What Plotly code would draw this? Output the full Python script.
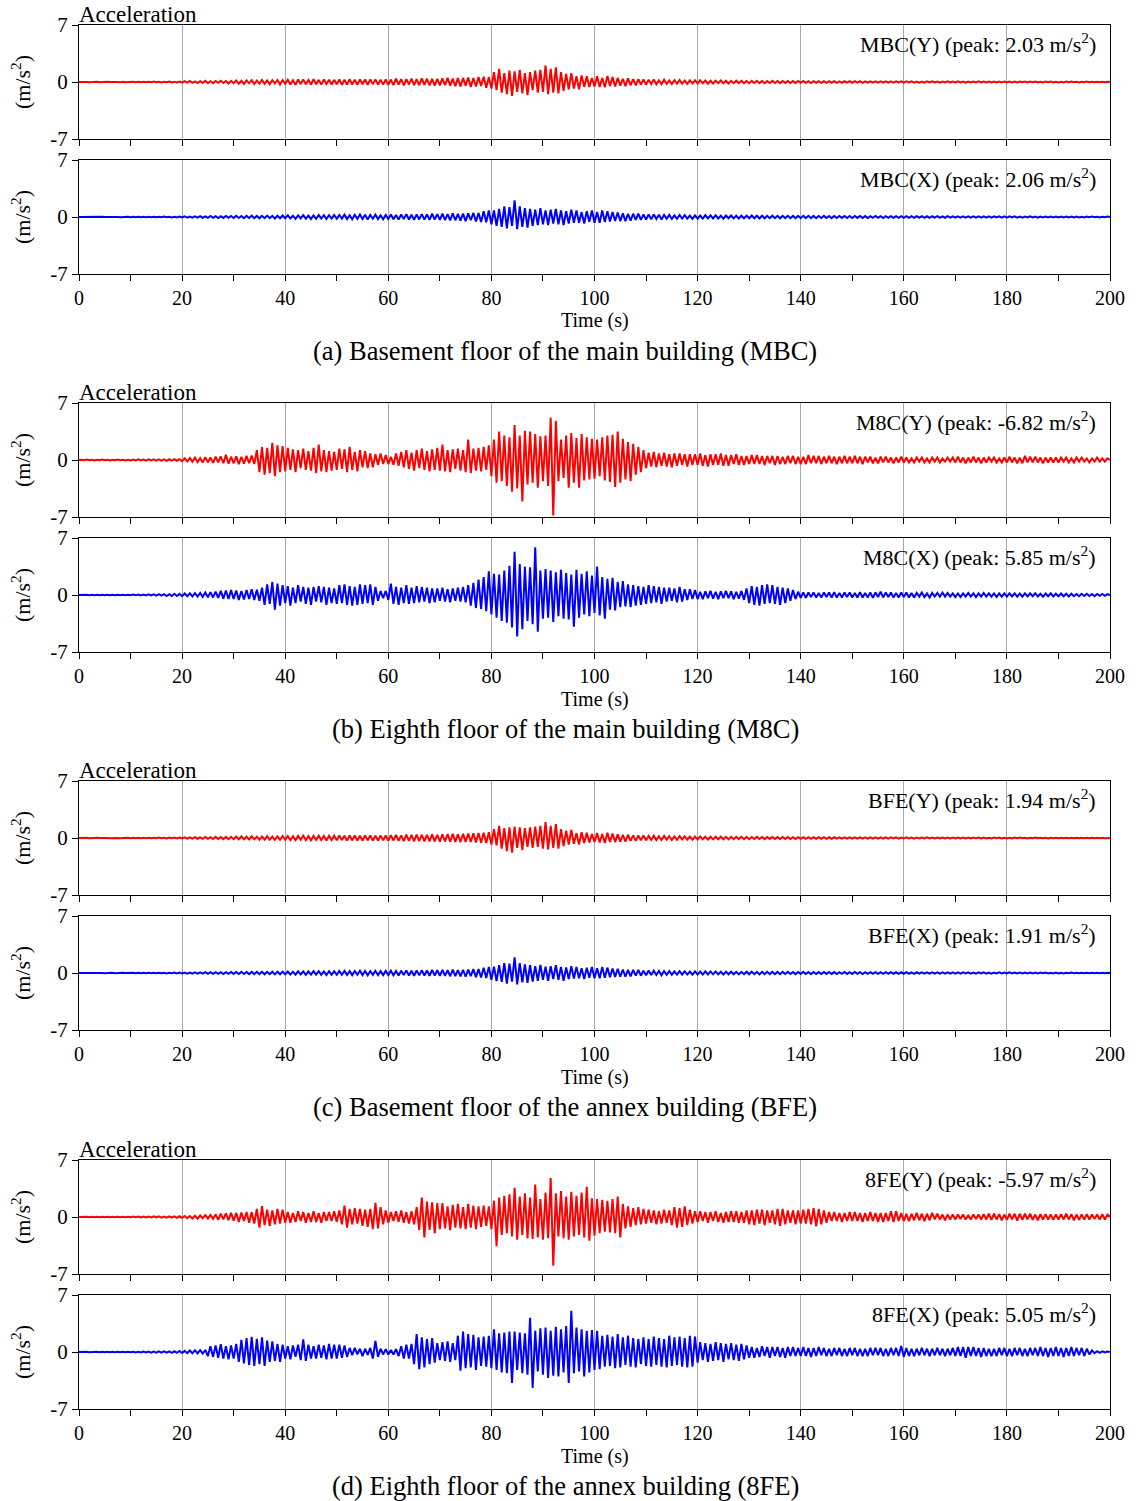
import numpy as np
import plotly.graph_objects as go

# ---------------- data (acceleration, m/s^2, sampled every 0.5 s from 0 to 200 s) ----------------
MBC_Y = [
    0,.02,-.02,.01,-.02,.02,-.01,.02,-.02,.01,-.02,.02,-.01,.02,-.02,.01,-.02,.03,-.02,.02,
    -.03,.03,-.02,.04,-.03,.03,-.04,.03,-.03,.05,-.04,.04,-.05,.04,-.03,.05,-.05,.04,-.06,.05,
    -.08,.1,-.07,.12,-.1,.08,-.12,.1,-.09,.14,-.12,.1,-.15,.12,-.1,.16,-.13,.12,-.18,.15,
    -.14,.18,-.2,.15,-.22,.2,-.16,.22,-.25,.18,-.2,.24,-.22,.2,-.26,.22,-.18,.25,-.3,.24,
    -.22,.28,-.3,.22,-.35,.3,-.25,.32,-.28,.25,-.3,.35,-.28,.26,-.32,.3,-.25,.28,-.3,.26,
    -.28,.3,-.35,.28,-.32,.35,-.3,.28,-.36,.32,-.28,.3,-.34,.3,-.26,.32,-.3,.28,-.32,.3,
    -.35,.3,-.38,.4,-.32,.36,-.4,.35,-.3,.42,-.38,.35,-.4,.45,-.36,.4,-.42,.38,-.45,.4,
    -.42,.45,-.4,.5,-.45,.42,-.5,.48,-.55,.5,-.45,.55,-.6,.5,-.55,.6,-.5,.65,-.7,.6,
    -.8,1.2,-1.0,1.6,-1.3,1.1,-1.5,1.4,-1.7,1.3,-1.2,1.5,-1.4,1.1,-1.6,1.2,-1.0,1.4,-1.3,1.5,
    -1.2,2.03,-1.5,1.6,-1.3,1.8,-1.4,1.2,-1.1,1.0,-.9,1.1,-.8,.7,-.9,.8,-.6,.7,-.6,.5,
    -.55,.7,-.6,.5,-.65,.75,-.5,.6,-.55,.5,-.45,.4,-.5,.45,-.4,.35,-.4,.35,-.3,.32,
    -.3,.28,-.25,.3,-.28,.22,-.25,.28,-.22,.2,-.25,.22,-.2,.24,-.2,.18,-.22,.2,-.18,.2,
    -.18,.2,-.16,.18,-.2,.15,-.18,.16,-.14,.18,-.16,.15,-.18,.14,-.15,.16,-.13,.15,-.14,.12,
    -.15,.14,-.12,.15,-.14,.12,-.15,.13,-.12,.14,-.13,.12,-.14,.12,-.11,.13,-.12,.11,-.13,.12,
    -.1,.12,-.11,.1,-.12,.1,-.09,.11,-.1,.09,-.11,.1,-.09,.1,-.1,.08,-.1,.09,-.08,.1,
    -.09,.1,-.08,.09,-.1,.08,-.09,.08,-.07,.09,-.08,.07,-.09,.08,-.07,.08,-.07,.08,-.06,.07,
    -.07,.08,-.06,.07,-.08,.06,-.07,.06,-.07,.08,-.06,.07,-.06,.05,-.07,.06,-.05,.07,-.06,.05,
    -.06,.07,-.05,.06,-.07,.05,-.06,.06,-.05,.07,-.06,.05,-.06,.05,-.05,.06,-.05,.05,-.06,.05,
    -.05,.06,-.05,.05,-.06,.05,-.04,.05,-.05,.06,-.04,.05,-.05,.04,-.05,.05,-.04,.05,-.05,.04,
    -.05,.04,-.05,.05,-.04,.05,-.04,.04,-.05,.04,-.04,.05,-.04,.04,-.04,.03,-.04,.04,-.03,.04,
    0,
]
MBC_X = [
    0,.01,-.01,.02,-.01,.01,-.02,.01,-.01,.02,-.01,.01,-.02,.02,-.01,.01,-.02,.02,-.01,.02,
    -.02,.03,-.02,.03,-.03,.02,-.03,.04,-.03,.03,-.04,.03,-.04,.05,-.04,.04,-.05,.04,-.05,.06,
    -.06,.07,-.08,.06,-.09,.08,-.07,.1,-.09,.08,-.1,.12,-.1,.09,-.12,.1,-.11,.13,-.1,.12,
    -.12,.14,-.13,.12,-.15,.14,-.12,.16,-.14,.13,-.16,.15,-.14,.17,-.15,.14,-.18,.16,-.15,.18,
    -.16,.2,-.18,.16,-.22,.2,-.18,.22,-.2,.18,-.24,.2,-.22,.25,-.2,.22,-.25,.22,-.2,.24,
    -.22,.25,-.2,.28,-.25,.22,-.28,.25,-.22,.3,-.25,.28,-.3,.25,-.22,.28,-.25,.22,-.28,.26,
    -.25,.3,-.28,.25,-.32,.3,-.26,.35,-.3,.28,-.35,.32,-.3,.36,-.32,.3,-.35,.4,-.32,.35,
    -.35,.4,-.38,.35,-.42,.45,-.4,.38,-.45,.42,-.5,.45,-.4,.5,-.55,.5,-.6,.7,-.65,.8,
    -.9,.8,-1.1,1.0,-1.2,1.3,-1.4,1.2,-1.1,2.06,-1.5,1.3,-1.2,1.1,-1.3,1.0,-1.1,.9,-1.0,1.1,
    -.9,.8,-1.0,.9,-.8,1.0,-.9,.8,-1.0,.7,-.8,.9,-.7,.8,-.7,.6,-.8,.7,-.6,.8,
    -.7,.6,-.7,.8,-.6,.7,-.55,.6,-.5,.55,-.5,.45,-.5,.4,-.45,.4,-.35,.4,-.35,.3,
    -.3,.32,-.28,.3,-.25,.28,-.3,.25,-.22,.26,-.24,.2,-.22,.24,-.2,.22,-.2,.18,-.22,.2,
    -.2,.18,-.2,.22,-.18,.2,-.17,.2,-.18,.16,-.2,.18,-.16,.18,-.17,.15,-.18,.16,-.15,.17,
    -.16,.18,-.15,.16,-.18,.15,-.16,.15,-.14,.16,-.15,.14,-.16,.15,-.13,.15,-.14,.13,-.15,.14,
    -.14,.15,-.13,.14,-.15,.13,-.14,.12,-.13,.14,-.12,.13,-.14,.12,-.13,.12,-.11,.13,-.12,.12,
    -.12,.13,-.11,.12,-.13,.11,-.12,.11,-.1,.12,-.11,.1,-.12,.11,-.1,.11,-.1,.1,-.11,.1,
    -.1,.11,-.1,.09,-.11,.1,-.09,.1,-.1,.09,-.1,.09,-.08,.1,-.09,.08,-.09,.1,-.08,.09,
    -.09,.08,-.09,.08,-.07,.09,-.08,.07,-.08,.09,-.07,.08,-.08,.07,-.08,.07,-.06,.08,-.07,.07,
    -.07,.08,-.06,.07,-.07,.06,-.07,.06,-.06,.07,-.06,.06,-.07,.06,-.05,.06,-.06,.05,-.06,.06,
    -.06,.05,-.06,.05,-.05,.06,-.05,.05,-.05,.04,-.05,.05,-.04,.05,-.04,.04,-.05,.04,-.04,.05,
    0,
]
M8C_Y = [
    0,.03,-.04,.05,-.03,.04,-.05,.04,-.03,.05,-.04,.03,-.05,.04,-.04,.05,-.03,.04,-.05,.04,
    -.05,.06,-.05,.07,-.06,.05,-.08,.07,-.06,.08,-.07,.09,-.08,.07,-.1,.09,-.08,.1,-.09,.1,
    -.15,.2,-.18,.25,-.2,.3,-.25,.22,-.3,.35,-.28,.3,-.35,.4,-.3,.45,-.4,.65,-.45,.4,
    -.4,.45,-.5,.4,-.45,.5,-.4,.55,-.5,1.2,-1.5,1.6,-1.8,1.5,-1.6,2.1,-2.0,1.8,-1.5,1.7,
    -1.4,1.5,-1.2,1.3,-1.5,1.2,-1.0,1.4,-1.2,1.1,-1.3,1.5,-1.6,1.9,-1.4,1.2,-1.5,1.1,-1.3,1.0,
    -1.2,1.4,-1.1,1.3,-1.5,1.6,-1.2,1.0,-1.4,1.2,-.9,1.1,-1.0,.8,-.9,.7,-.6,.8,-.5,.6,
    -.5,.4,-.6,.8,-.7,1.0,-.9,1.2,-1.1,.9,-1.3,1.2,-1.0,1.4,-1.2,1.1,-1.4,1.3,-1.2,1.5,
    -1.3,1.9,-1.4,1.2,-1.5,1.3,-1.1,1.4,-1.3,1.2,-1.5,2.5,-1.6,1.4,-1.3,1.5,-1.4,1.6,-1.2,1.8,
    -2.0,2.5,-2.8,3.5,-2.6,3.0,-3.2,2.8,-3.9,4.3,-3.5,3.0,-5.1,3.6,-3.0,3.5,-2.8,3.2,-3.4,2.9,
    -2.6,3.0,-3.2,5.2,-6.82,4.8,-2.6,2.5,-2.2,3.0,-3.4,3.3,-2.8,2.7,-3.4,3.2,-2.5,2.8,-2.4,2.6,
    -2.3,2.5,-2.0,2.8,-2.5,3.0,-2.7,3.1,-3.3,3.5,-2.8,2.6,-2.4,2.2,-2.6,2.0,-1.8,1.6,-1.5,1.2,
    -1.0,.9,-.8,1.0,-.9,.8,-.7,.9,-.8,.7,-.9,.8,-.7,.8,-.6,.7,-.8,.7,-.6,.7,
    -.6,.8,-.7,.6,-.8,.7,-.6,.7,-.6,.8,-.7,.6,-.7,.6,-.5,.7,-.6,.5,-.6,.5,
    -.5,.6,-.5,.6,-.5,.5,-.6,.5,-.4,.5,-.6,.5,-.5,.4,-.5,.5,-.4,.5,-.5,.4,
    -.5,.4,-.5,.6,-.4,.5,-.4,.5,-.5,.4,-.4,.5,-.4,.4,-.5,.4,-.4,.5,-.4,.4,
    -.4,.5,-.4,.4,-.5,.4,-.3,.4,-.4,.3,-.4,.4,-.3,.4,-.3,.3,-.4,.3,-.3,.4,
    -.3,.3,-.3,.2,-.3,.3,-.2,.3,-.3,.2,-.3,.3,-.2,.3,-.3,.2,-.2,.3,-.2,.3,
    -.3,.4,-.3,.3,-.4,.3,-.3,.4,-.3,.3,-.4,.3,-.3,.3,-.2,.3,-.3,.2,-.3,.3,
    -.3,.4,-.3,.3,-.4,.3,-.4,.5,-.3,.4,-.3,.4,-.3,.3,-.4,.3,-.3,.3,-.3,.3,
    -.3,.3,-.2,.3,-.3,.2,-.3,.3,-.2,.3,-.2,.2,-.3,.2,-.2,.3,-.2,.2,-.2,.2,
    0,
]
M8C_X = [
    0,.02,-.03,.02,-.02,.03,-.02,.03,-.03,.02,-.03,.03,-.02,.03,-.03,.02,-.03,.04,-.03,.03,
    -.04,.05,-.04,.06,-.05,.05,-.06,.07,-.06,.08,-.07,.1,-.08,.1,-.12,.1,-.12,.15,-.12,.14,
    -.15,.18,-.16,.2,-.18,.22,-.2,.25,-.22,.3,-.28,.35,-.3,.4,-.35,.5,-.45,.55,-.5,.6,
    -.5,.55,-.6,.5,-.55,.6,-.5,.7,-.6,.65,-.7,.9,-1.2,1.3,-1.1,1.6,-1.8,1.4,-1.3,1.2,
    -1.0,1.1,-1.3,.9,-1.0,1.2,-.8,1.0,-1.1,.9,-1.2,1.0,-.8,1.1,-.9,1.0,-1.2,.9,-1.0,.8,
    -1.1,1.2,-1.0,1.3,-1.2,1.1,-1.3,1.0,-1.2,1.3,-1.1,1.2,-1.0,1.3,-1.2,1.0,-.7,.5,-.4,.5,
    -.6,1.4,-1.1,1.0,-1.2,.9,-1.0,1.2,-1.1,.9,-1.0,1.1,-.9,1.0,-.8,.9,-1.0,.8,-.9,.8,
    -.7,.9,-.8,.7,-.9,.8,-.7,.9,-.8,1.0,-.9,1.2,-1.3,1.5,-1.6,1.9,-1.7,2.2,-2.0,2.9,
    -2.4,2.6,-2.8,2.5,-3.2,3.0,-3.4,3.6,-4.0,5.3,-5.1,3.8,-4.2,3.5,-3.2,3.4,-3.6,5.85,-4.5,3.0,
    -2.9,3.2,-2.8,3.0,-3.3,2.8,-2.6,3.1,-2.9,2.7,-3.0,2.5,-3.9,3.1,-2.8,2.6,-2.4,2.9,-2.6,2.4,
    -2.2,3.5,-2.5,2.2,-2.9,2.0,-1.8,2.1,-1.9,1.6,-1.5,1.7,-1.4,1.3,-1.5,1.2,-1.3,1.1,-1.2,1.0,
    -1.1,1.2,-1.0,1.1,-.9,1.0,-1.1,.9,-.8,.9,-.7,.8,-.9,1.0,-.8,.7,-.6,.7,-.5,.6,
    -.5,.4,-.5,.45,-.4,.5,-.45,.4,-.5,.45,-.4,.5,-.4,.45,-.5,.4,-.45,.5,-.6,.8,
    -1.0,1.1,-1.2,1.0,-1.3,1.2,-1.1,1.3,-1.0,1.2,-1.1,1.0,-1.2,.9,-1.0,.8,-.7,.6,-.5,.4,
    -.35,.3,-.35,.3,-.25,.3,-.3,.25,-.3,.3,-.25,.3,-.3,.35,-.3,.25,-.3,.3,-.25,.3,
    -.3,.25,-.3,.35,-.3,.25,-.3,.3,-.35,.3,-.25,.4,-.3,.3,-.25,.3,-.3,.25,-.3,.3,
    -.25,.3,-.3,.25,-.3,.25,-.2,.3,-.25,.2,-.3,.25,-.2,.25,-.2,.3,-.2,.25,-.2,.2,
    -.25,.2,-.25,.2,-.2,.25,-.2,.2,-.25,.2,-.2,.25,-.2,.2,-.2,.2,-.25,.2,-.2,.2,
    -.2,.2,-.18,.2,-.2,.18,-.2,.2,-.18,.2,-.15,.2,-.18,.15,-.2,.18,-.15,.2,-.18,.15,
    -.15,.18,-.15,.15,-.18,.15,-.15,.12,-.15,.15,-.12,.15,-.12,.12,-.15,.12,-.1,.12,-.1,.1,
    0,
]
BFE_Y = [
    0,.02,-.01,.02,-.02,.01,-.02,.02,-.01,.02,-.02,.01,-.02,.02,-.02,.01,-.02,.02,-.01,.02,
    -.02,.03,-.03,.02,-.03,.04,-.03,.03,-.04,.03,-.04,.05,-.04,.04,-.05,.05,-.04,.06,-.05,.06,
    -.06,.08,-.07,.09,-.08,.1,-.09,.08,-.1,.12,-.11,.1,-.12,.14,-.12,.11,-.14,.13,-.15,.14,
    -.14,.16,-.15,.18,-.16,.15,-.18,.2,-.17,.16,-.2,.18,-.19,.22,-.2,.18,-.22,.2,-.21,.24,
    -.22,.25,-.24,.22,-.26,.25,-.22,.28,-.25,.24,-.28,.26,-.24,.28,-.26,.25,-.3,.27,-.25,.28,
    -.28,.3,-.26,.28,-.32,.3,-.27,.3,-.3,.28,-.32,.3,-.28,.32,-.3,.28,-.3,.32,-.28,.3,
    -.32,.35,-.3,.38,-.35,.33,-.38,.4,-.36,.38,-.4,.42,-.38,.4,-.42,.38,-.4,.44,-.42,.4,
    -.44,.46,-.42,.48,-.45,.5,-.48,.46,-.5,.52,-.48,.55,-.5,.58,-.55,.6,-.58,.65,-.6,.7,
    -.8,1.1,-.9,1.5,-1.3,1.2,-1.6,1.3,-1.8,1.4,-1.2,1.3,-1.5,1.2,-1.1,1.3,-1.2,1.4,-1.1,1.5,
    -1.3,1.94,-1.4,1.5,-1.2,1.7,-1.3,1.1,-1.0,.9,-.8,1.0,-.7,.6,-.8,.7,-.6,.65,-.55,.5,
    -.5,.6,-.55,.5,-.6,.65,-.5,.55,-.5,.45,-.45,.4,-.45,.4,-.35,.32,-.35,.3,-.28,.3,
    -.28,.26,-.24,.28,-.26,.22,-.24,.26,-.2,.22,-.24,.2,-.22,.22,-.18,.2,-.2,.18,-.2,.18,
    -.17,.19,-.16,.17,-.19,.15,-.17,.16,-.15,.17,-.16,.14,-.17,.15,-.14,.15,-.13,.14,-.14,.13,
    -.14,.13,-.12,.14,-.13,.12,-.14,.12,-.11,.13,-.12,.11,-.13,.12,-.11,.12,-.12,.1,-.12,.11,
    -.1,.11,-.1,.1,-.11,.09,-.1,.1,-.09,.1,-.1,.09,-.1,.09,-.08,.09,-.09,.08,-.09,.08,
    -.08,.09,-.08,.08,-.09,.07,-.08,.08,-.07,.08,-.07,.08,-.08,.07,-.07,.07,-.06,.07,-.07,.06,
    -.06,.07,-.06,.06,-.07,.06,-.06,.05,-.06,.07,-.05,.06,-.06,.05,-.06,.05,-.05,.06,-.05,.05,
    -.05,.06,-.05,.05,-.06,.05,-.05,.06,-.04,.05,-.05,.05,-.05,.04,-.05,.05,-.04,.05,-.05,.04,
    -.05,.04,-.05,.05,-.04,.05,-.04,.04,-.05,.04,-.04,.05,-.04,.04,-.04,.04,-.05,.04,-.04,.04,
    -.04,.04,-.03,.04,-.04,.03,-.04,.04,-.03,.04,-.03,.03,-.04,.03,-.03,.03,-.03,.03,-.03,.03,
    0,
]
BFE_X = [
    0,.01,-.01,.01,-.02,.01,-.01,.02,-.01,.01,-.02,.01,-.01,.02,-.02,.01,-.02,.02,-.01,.02,
    -.02,.02,-.03,.03,-.02,.03,-.03,.03,-.04,.03,-.03,.04,-.04,.03,-.05,.04,-.04,.05,-.05,.05,
    -.05,.06,-.07,.06,-.08,.07,-.08,.09,-.08,.1,-.09,.11,-.1,.09,-.11,.1,-.12,.11,-.1,.12,
    -.11,.13,-.12,.14,-.13,.12,-.14,.15,-.13,.14,-.15,.14,-.16,.15,-.14,.16,-.17,.15,-.16,.17,
    -.17,.18,-.19,.16,-.2,.21,-.18,.2,-.22,.19,-.21,.22,-.2,.23,-.22,.2,-.24,.22,-.21,.23,
    -.22,.24,-.21,.26,-.24,.23,-.26,.24,-.22,.28,-.25,.26,-.28,.24,-.23,.27,-.25,.23,-.26,.25,
    -.26,.28,-.27,.25,-.3,.29,-.26,.32,-.3,.28,-.33,.3,-.29,.34,-.31,.3,-.34,.38,-.31,.34,
    -.34,.38,-.36,.34,-.4,.42,-.38,.36,-.42,.4,-.46,.42,-.4,.48,-.52,.48,-.56,.66,-.62,.75,
    -.85,.78,-1.0,.95,-1.1,1.2,-1.3,1.15,-1.05,1.91,-1.4,1.2,-1.15,1.05,-1.2,.95,-1.05,.85,-.95,1.0,
    -.85,.78,-.95,.85,-.75,.95,-.85,.75,-.95,.68,-.75,.85,-.68,.75,-.66,.58,-.75,.66,-.58,.75,
    -.66,.58,-.66,.75,-.58,.66,-.52,.56,-.48,.52,-.46,.42,-.46,.38,-.42,.38,-.33,.37,-.33,.28,
    -.28,.3,-.26,.28,-.24,.26,-.28,.24,-.21,.24,-.22,.19,-.21,.22,-.19,.21,-.19,.17,-.2,.19,
    -.19,.17,-.19,.2,-.17,.19,-.16,.19,-.17,.15,-.19,.17,-.15,.17,-.16,.14,-.17,.15,-.14,.16,
    -.15,.17,-.14,.15,-.17,.14,-.15,.14,-.13,.15,-.14,.13,-.15,.14,-.12,.14,-.13,.12,-.14,.13,
    -.13,.14,-.12,.13,-.14,.12,-.13,.11,-.12,.13,-.11,.12,-.13,.11,-.12,.11,-.1,.12,-.11,.11,
    -.11,.12,-.1,.11,-.12,.1,-.11,.1,-.09,.11,-.1,.09,-.11,.1,-.09,.1,-.09,.09,-.1,.09,
    -.09,.1,-.09,.08,-.1,.09,-.08,.09,-.09,.08,-.09,.08,-.07,.09,-.08,.07,-.08,.09,-.07,.08,
    -.08,.07,-.08,.07,-.06,.08,-.07,.06,-.07,.08,-.06,.07,-.07,.06,-.07,.06,-.05,.07,-.06,.06,
    -.06,.07,-.05,.06,-.06,.05,-.06,.05,-.05,.06,-.05,.05,-.06,.05,-.04,.05,-.05,.04,-.05,.05,
    -.05,.04,-.05,.04,-.04,.05,-.04,.04,-.04,.03,-.04,.04,-.03,.04,-.03,.03,-.04,.03,-.03,.04,
    0,
]
FE8_Y = [
    0,.02,-.03,.02,-.03,.03,-.02,.03,-.03,.02,-.03,.04,-.03,.03,-.04,.03,-.03,.04,-.04,.03,
    -.04,.05,-.04,.06,-.05,.05,-.06,.05,-.06,.07,-.06,.08,-.07,.06,-.08,.09,-.07,.08,-.1,.09,
    -.1,.12,-.15,.12,-.18,.15,-.2,.18,-.15,.22,-.2,.25,-.22,.3,-.35,.4,-.3,.45,-.4,.5,
    -.45,.5,-.6,.55,-.5,.6,-.7,.6,-.8,1.0,-1.3,1.35,-1.0,.9,-1.1,.8,-.9,1.0,-.8,.9,
    -.7,.6,-.7,.5,-.6,.7,-.5,.6,-.7,.5,-.6,.7,-.6,.5,-.7,.6,-.5,.6,-.5,.7,
    -.6,.8,-.9,1.4,-1.3,1.0,-.9,1.1,-.8,1.0,-1.1,.9,-1.2,1.0,-1.5,1.75,-1.4,1.2,-.9,.8,
    -.7,.6,-.5,.7,-.6,.8,-.7,.6,-.8,.7,-.9,1.2,-1.6,2.4,-2.5,1.9,-1.6,1.8,-2.0,1.7,
    -1.5,1.7,-1.4,1.3,-1.6,1.5,-1.3,1.6,-1.4,1.2,-1.5,1.6,-1.3,1.4,-1.5,1.3,-1.2,1.4,-1.1,1.3,
    -1.5,2.0,-3.6,2.4,-2.2,2.6,-2.0,2.8,-2.4,3.6,-2.8,2.5,-2.2,2.9,-2.6,2.4,-2.7,4.0,-2.5,2.2,
    -2.8,3.0,-2.6,4.8,-5.97,2.9,-2.4,3.2,-2.6,2.5,-2.8,3.1,-2.4,2.6,-2.2,3.0,-2.5,3.7,-2.9,2.3,
    -2.3,2.2,-2.0,2.1,-1.8,2.0,-1.9,2.2,-2.0,2.5,-2.5,1.6,-1.4,1.3,-1.2,1.1,-1.0,1.2,-.9,1.0,
    -.8,.9,-.7,.8,-.9,.7,-.8,.9,-.7,.8,-1.0,1.2,-1.3,1.1,-1.2,1.3,-1.0,.9,-.8,.7,
    -.6,.7,-.5,.6,-.7,.6,-.5,.7,-.6,.5,-.7,.6,-.6,.7,-.6,.7,-.7,.6,-.7,.8,
    -.9,.8,-1.0,.9,-.8,.9,-1.0,.8,-.7,.8,-.9,1.0,-1.1,1.0,-.9,.8,-.7,.8,-.9,.8,
    -.8,.9,-.8,1.0,-.9,1.1,-1.15,1.0,-.9,.8,-.7,.6,-.5,.6,-.5,.5,-.6,.5,-.5,.6,
    -.5,.6,-.5,.5,-.6,.5,-.5,.6,-.5,.5,-.6,.5,-.6,.5,-.5,.7,-.6,.7,-.5,.5,
    -.5,.4,-.5,.4,-.4,.5,-.4,.4,-.5,.4,-.4,.5,-.3,.4,-.3,.3,-.4,.3,-.3,.3,
    -.3,.3,-.25,.3,-.3,.25,-.3,.3,-.25,.3,-.3,.35,-.3,.4,-.35,.4,-.3,.35,-.4,.3,
    -.35,.4,-.3,.4,-.45,.4,-.35,.4,-.3,.4,-.35,.3,-.4,.35,-.3,.35,-.3,.3,-.35,.3,
    -.3,.35,-.3,.4,-.3,.35,-.4,.3,-.35,.3,-.3,.35,-.3,.3,-.25,.3,-.3,.35,-.3,.3,
    0,
]
FE8_X = [
    0,.02,-.02,.03,-.02,.02,-.03,.02,-.02,.03,-.03,.02,-.03,.03,-.02,.03,-.03,.04,-.03,.03,
    -.04,.04,-.05,.04,-.05,.06,-.05,.06,-.07,.06,-.07,.08,-.07,.08,-.09,.08,-.1,.09,-.1,.12,
    -.12,.14,-.15,.18,-.16,.2,-.18,.22,-.2,.25,-.5,.7,-.6,.8,-.7,.95,-.8,.7,-.9,.8,
    -.8,1.0,-1.2,1.5,-1.4,1.7,-1.6,1.85,-1.7,1.6,-1.5,1.8,-1.7,1.4,-1.2,1.3,-1.1,1.0,-1.2,.9,
    -.8,.7,-.9,.8,-.6,.9,-1.0,1.55,-1.1,.9,-.8,.7,-.8,.9,-.7,.8,-.9,1.0,-.8,.9,
    -.8,.9,-.7,.8,-.6,.5,-.4,.5,-.3,.4,-.5,.4,-.35,.5,-.8,1.35,-.6,.4,-.3,.35,
    -.3,.25,-.3,.35,-.5,.7,-.8,.9,-.8,1.0,-1.5,2.2,-2.1,1.8,-1.9,1.6,-1.5,1.7,-1.3,1.1,
    -1.0,1.2,-1.1,1.3,-1.2,1.1,-1.0,2.0,-2.3,2.5,-2.0,2.2,-1.9,2.1,-2.2,1.8,-1.7,1.9,-1.8,2.0,
    -2.0,2.8,-2.2,2.3,-2.5,2.4,-2.6,2.5,-3.8,2.5,-2.2,2.4,-2.6,2.3,-2.8,4.2,-4.4,2.6,-2.4,2.9,
    -2.8,3.0,-3.2,2.6,-2.9,3.1,-3.0,2.8,-2.5,3.2,-3.8,5.05,-2.6,3.0,-2.4,2.8,-3.0,2.6,-2.5,2.7,
    -2.2,2.6,-2.1,2.0,-1.8,2.1,-1.7,1.9,-2.0,2.2,-1.9,1.8,-1.6,2.0,-1.8,1.7,-1.9,1.6,-1.5,1.8,
    -1.7,1.6,-1.8,1.9,-1.6,1.7,-1.8,1.6,-1.9,2.0,-1.7,1.8,-1.6,1.9,-1.8,1.7,-1.9,2.0,-1.8,1.9,
    -1.3,1.2,-1.0,1.1,-1.2,1.0,-1.1,1.2,-1.0,1.1,-1.2,1.0,-.9,1.1,-1.0,.9,-1.1,1.0,-.9,.8,
    -.7,.6,-.7,.5,-.6,.7,-.5,.6,-.7,.6,-.5,.6,-.6,.5,-.7,.6,-.5,.6,-.5,.5,
    -.5,.6,-.5,.5,-.6,.5,-.5,.6,-.4,.5,-.5,.4,-.5,.5,-.4,.5,-.5,.4,-.5,.5,
    -.4,.5,-.5,.4,-.5,.4,-.5,.5,-.4,.5,-.4,.5,-.5,.4,-.5,.5,-.4,.5,-.5,.75,
    -.6,.5,-.5,.4,-.5,.4,-.4,.5,-.4,.4,-.5,.4,-.4,.5,-.4,.4,-.5,.4,-.4,.5,
    -.5,.6,-.5,.6,-.7,.6,-.5,.6,-.5,.5,-.6,.5,-.5,.4,-.5,.4,-.5,.5,-.4,.5,
    -.5,.4,-.5,.5,-.4,.5,-.5,.4,-.5,.5,-.4,.5,-.5,.6,-.5,.5,-.6,.5,-.5,.6,
    -.5,.5,-.6,.5,-.5,.6,-.5,.5,-.4,.5,-.5,.4,-.3,.2,-.15,.1,-.1,.08,-.06,.05,
    0,
]

series_values = [MBC_Y, MBC_X, M8C_Y, M8C_X, BFE_Y, BFE_X, FE8_Y, FE8_X]
series_names = ["MBC(Y)", "MBC(X)", "M8C(Y)", "M8C(X)", "BFE(Y)", "BFE(X)", "8FE(Y)", "8FE(X)"]
peak_labels = ["2.03", "2.06", "-6.82", "5.85", "1.94", "1.91", "-5.97", "5.05"]
captions = [
    "(a) Basement floor of the main building (MBC)",
    "(b) Eighth floor of the main building (M8C)",
    "(c) Basement floor of the annex building (BFE)",
    "(d) Eighth floor of the annex building (8FE)",
]
x_ticks = [0, 20, 40, 60, 80, 100, 120, 140, 160, 180, 200]
y_ticks = [-7, 0, 7]
y_ticklabels = ["-7", "0", "7"]
SAMPLE_DT = 0.5

# ---------------- figure ----------------
W, H = 1137, 1501
MT, MB, ML, MR = 25, 92, 79, 17
PH = H - MT - MB
panel_tops = [25, 160, 403, 538, 781, 916, 1160, 1295]
PANEL_H = 114
FONT = "Liberation Serif"
colors = ["#ff0000", "#0000ff"]

fig = go.Figure()
layout = dict(
    width=W, height=H, autosize=False,
    margin=dict(l=ML, r=MR, t=MT, b=MB),
    paper_bgcolor="white", plot_bgcolor="white",
    showlegend=False,
    font=dict(family=FONT, size=20, color="black"),
)
annotations = []

for i, vals in enumerate(series_values):
    n = i + 1
    xa = "x" if n == 1 else f"x{n}"
    ya = "y" if n == 1 else f"y{n}"
    t = SAMPLE_DT * np.arange(len(vals))
    fig.add_trace(go.Scatter(
        x=t, y=vals, mode="lines", xaxis=xa, yaxis=ya,
        line=dict(color=colors[i % 2], width=2), hoverinfo="skip",
    ))
    top = panel_tops[i]
    d0 = (H - MB - (top + PANEL_H)) / PH
    d1 = (H - MB - top) / PH
    bottom_of_group = (i % 2 == 1)
    layout["xaxis" if n == 1 else f"xaxis{n}"] = dict(
        domain=[0, 1], anchor=ya, range=[0, 200],
        tickmode="array", tickvals=x_ticks, ticktext=[str(v) for v in x_ticks],
        showticklabels=bottom_of_group,
        ticks="outside", ticklen=6, tickwidth=1, tickcolor="black",
        minor=dict(tickmode="linear", tick0=0, dtick=10, ticks="outside",
                   ticklen=6, tickwidth=1, tickcolor="black", showgrid=False),
        showline=True, mirror=True, linecolor="black", linewidth=1,
        showgrid=True, gridcolor="#a8a8a8", gridwidth=1.3,
        zeroline=False,
        tickfont=dict(family=FONT, size=20, color="black"),
    )
    layout["yaxis" if n == 1 else f"yaxis{n}"] = dict(
        domain=[d0, d1], anchor=xa, range=[-7, 7],
        tickmode="array", tickvals=y_ticks, ticktext=y_ticklabels,
        ticks="outside", ticklen=6, tickwidth=1, tickcolor="black",
        showline=True, mirror=True, linecolor="black", linewidth=1,
        showgrid=False, zeroline=False,
        tickfont=dict(family=FONT, size=21, color="black"),
    )
    xdom = f"{xa} domain"
    ydom = f"{ya} domain"
    # y-axis title
    annotations.append(dict(
        text="(m/s<sup>2</sup>)", xref=xdom, yref=ydom, x=0, y=0.5,
        xanchor="center", yanchor="middle", xshift=-58, textangle=-90,
        showarrow=False, font=dict(family=FONT, size=22, color="black"),
    ))
    # series label
    annotations.append(dict(
        text=f"{series_names[i]} (peak: {peak_labels[i]} m/s<sup>2</sup>)",
        xref=xdom, yref=ydom, x=1, y=1, xanchor="right", yanchor="top",
        xshift=-12, yshift=-2, showarrow=False,
        font=dict(family=FONT, size=22, color="black"),
    ))
    if not bottom_of_group:
        annotations.append(dict(
            text="Acceleration", xref=xdom, yref=ydom, x=0, y=1,
            xanchor="left", yanchor="middle", yshift=11, xshift=-2,
            showarrow=False, font=dict(family=FONT, size=23, color="black"),
        ))
    else:
        annotations.append(dict(
            text="Time (s)", xref=xdom, yref=ydom, x=0.5, y=0,
            xanchor="center", yanchor="middle", yshift=-47,
            showarrow=False, font=dict(family=FONT, size=20, color="black"),
        ))
        annotations.append(dict(
            text=captions[i // 2], xref="paper", yref=ydom,
            x=(570 - ML) / (W - ML - MR), y=0,
            xanchor="center", yanchor="middle", yshift=-77,
            showarrow=False, font=dict(family=FONT, size=26.5, color="black"),
        ))

layout["annotations"] = annotations
fig.update_layout(**layout)
fig.write_html("out.html")
